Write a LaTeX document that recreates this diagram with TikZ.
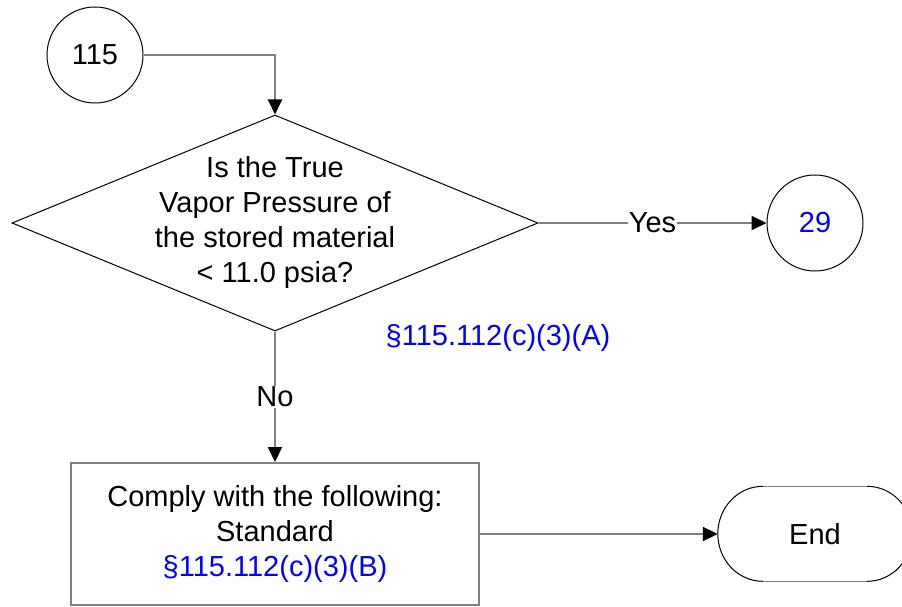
\documentclass[tikz,border=0pt]{standalone}
\usepackage{fontspec}
\setmainfont{Liberation Sans}
\usetikzlibrary{shapes.geometric,arrows.meta}
\definecolor{lgray}{RGB}{128,128,128}
\definecolor{tblue}{RGB}{0,0,255}
\begin{document}
\begin{tikzpicture}[x=1pt,y=-1pt,
  every node/.style={font=\fontsize{29}{35}\selectfont},
  conn/.style={draw=lgray,line width=2pt},
  arr/.style={conn,-{Triangle[length=15pt,width=14pt,color=black]}},
  circ/.style={circle,draw=black,line width=1pt,minimum size=96pt,inner sep=0pt},
  decision/.style={diamond,draw=black,line width=1pt,minimum width=526pt,minimum height=216pt,inner sep=0pt},
  procbox/.style={rectangle,draw=lgray,line width=2pt,minimum width=408pt,minimum height=142pt,inner sep=0pt,align=center},
  lbl/.style={fill=white,inner sep=1pt}
]
\useasboundingbox (0,0) rectangle (902,607);
\clip (0,0) rectangle (902,607);

\node[circ] (c115) at (95,55) {115};
\node[circ,text=tblue] (c29) at (815,223) {29};
\node[decision] (q) at (275,223) {};
\node[align=center,inner sep=0pt] (qt) at (q.center) {Is the True\\Vapor Pressure of\\the stored material\\< 11.0 psia?};
\node[text=tblue,inner sep=0pt] (la) at (498,338) {§115.112(c)(3)(A)};
\node[procbox] (box) at (275,534) {Comply with the following:\\Standard\\\textcolor{tblue}{§115.112(c)(3)(B)}};
\node[minimum width=194pt,minimum height=95pt,inner sep=0pt] (endn) at (815,534) {End};

\draw[lgray,line width=1.5pt] ([xshift=45pt]endn.north west) -- ([xshift=-45pt]endn.north east);
\draw[lgray,line width=1.5pt] ([xshift=45pt]endn.south west) -- ([xshift=-45pt]endn.south east);
\draw[black,line width=1pt] ([xshift=45pt]endn.north west) arc[start angle=90,end angle=270,x radius=45pt,y radius=47.5pt];
\draw[black,line width=1pt] ([xshift=-45pt]endn.north east) arc[start angle=90,end angle=-90,x radius=45pt,y radius=47.5pt];

\draw[arr] (c115.east) -| (q.north);
\draw[arr] (q.east) -- node[lbl] (yes) {Yes} (c29.west);
\draw[arr] (q.south) -- node[lbl] (no) {No} (box.north);
\draw[arr] (box.east) -- (endn.west);
\end{tikzpicture}
\end{document}
